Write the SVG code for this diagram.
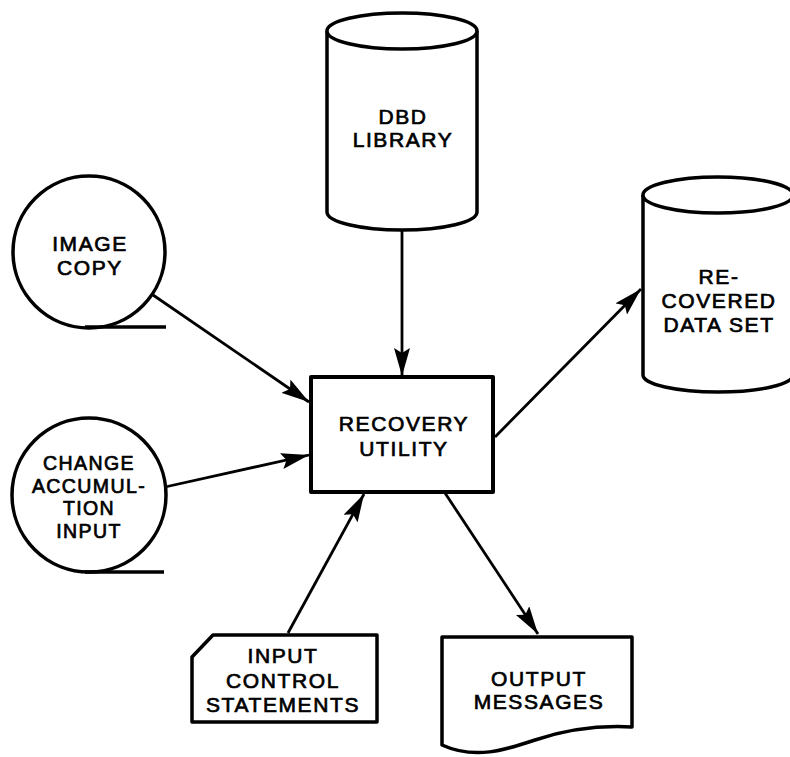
<svg xmlns="http://www.w3.org/2000/svg" width="790" height="757" viewBox="0 0 790 757">
<defs>
<style>
.s{fill:#fff;stroke:#000;stroke-width:3.5;stroke-linejoin:round}
.t{font-family:"Liberation Sans",Arial,Helvetica,sans-serif;font-size:21px;letter-spacing:1.6px;fill:#000;stroke:#000;stroke-width:0.7;text-anchor:middle;dominant-baseline:central}
.sm{font-size:19.5px;letter-spacing:1.4px}
.c{fill:none;stroke:#000;stroke-width:2.8}
</style>
<marker id="ah" viewBox="0 0 28 16" refX="28" refY="8" markerWidth="28" markerHeight="16" markerUnits="userSpaceOnUse" orient="auto">
<path d="M0,0 L28,8 L0,16 L5,8 Z" fill="#000"/>
</marker>
</defs>
<rect width="790" height="757" fill="#fff"/>

<g id="dbd-library">
<path class="s" d="M327,31 V212 A75,18 0 0 0 477,212 V31"/>
<ellipse class="s" cx="402" cy="31" rx="75" ry="18"/>
<text class="t" x="403" y="116">DBD</text>
<text class="t" x="403" y="139">LIBRARY</text>
</g>

<g id="recovered-data-set">
<path class="s" d="M643,195 V375 A75,17 0 0 0 793,375 V195"/>
<ellipse class="s" cx="718" cy="195" rx="75" ry="18"/>
<text class="t" x="719" y="276">RE-</text>
<text class="t" x="719" y="300">COVERED</text>
<text class="t" x="719" y="324">DATA SET</text>
</g>

<g id="image-copy">
<circle class="s" cx="89" cy="252" r="76"/>
<line class="s" x1="85" y1="327" x2="166" y2="327"/>
<text class="t" x="90" y="243">IMAGE</text>
<text class="t" x="90" y="267">COPY</text>
</g>

<g id="change-accumulation-input">
<circle class="s" cx="89" cy="495" r="77"/>
<line class="s" x1="85" y1="572" x2="164" y2="572"/>
<text class="t sm" x="89" y="463">CHANGE</text>
<text class="t sm" x="89" y="485.5">ACCUMUL-</text>
<text class="t sm" x="89" y="508">TION</text>
<text class="t sm" x="89" y="530.5">INPUT</text>
</g>

<g id="recovery-utility">
<rect class="s" x="311" y="377" width="182" height="115" style="stroke-width:4"/>
<text class="t" x="404" y="423">RECOVERY</text>
<text class="t" x="404" y="448">UTILITY</text>
</g>

<g id="input-control-statements">
<path class="s" d="M213,635 H377 V722 H192 V657 Z"/>
<text class="t" x="283" y="655">INPUT</text>
<text class="t" x="283" y="680">CONTROL</text>
<text class="t" x="283" y="704">STATEMENTS</text>
</g>

<g id="output-messages">
<path class="s" d="M442,637 H632 V727 C595,725 565,730 535,740 C505,750 475,760 442,745 Z"/>
<text class="t" x="539" y="678">OUTPUT</text>
<text class="t" x="539" y="701">MESSAGES</text>
</g>

<g id="connectors">
<line class="c" x1="402" y1="230" x2="402" y2="376" marker-end="url(#ah)"/>
<line class="c" x1="153" y1="295" x2="309" y2="402" marker-end="url(#ah)"/>
<line class="c" x1="165" y1="487" x2="309" y2="455" marker-end="url(#ah)"/>
<line class="c" x1="495" y1="437" x2="641" y2="289" marker-end="url(#ah)"/>
<line class="c" x1="288" y1="633" x2="364" y2="494" marker-end="url(#ah)"/>
<line class="c" x1="445" y1="493" x2="538" y2="634" marker-end="url(#ah)"/>
</g>
</svg>
